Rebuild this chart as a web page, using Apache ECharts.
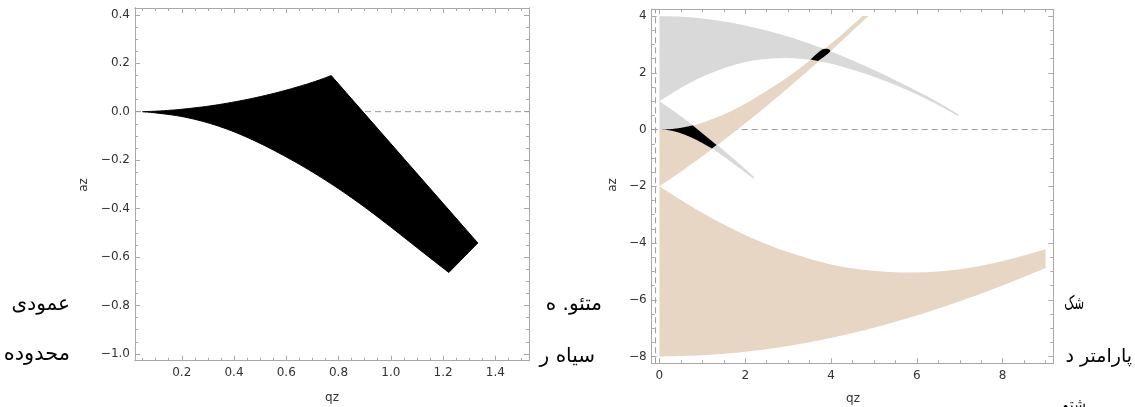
<!DOCTYPE html>
<html><head><meta charset="utf-8">
<script src="https://cdn.jsdelivr.net/npm/echarts@6/dist/echarts.min.js"></script>
<style>html,body{margin:0;padding:0;background:#fff}#c{width:1135px;height:407px}</style>
</head><body><div id="c"></div>
<script>
// ---------- DATA (qz, az) ----------
// Left panel: overlap (first stability) region, black
const blackTop = [[0.05,0],[0.1,0.002],[0.15,0.0055],[0.2,0.010],[0.3,0.0225],[0.4,0.040],[0.5,0.062],[0.6,0.089],[0.7,0.121],[0.772,0.149]];
const blackCorner = [[1.333,-0.542]];
const blackLower = [[0.05,0],[0.1,-0.005],[0.2,-0.020],[0.3,-0.046],[0.4,-0.083],[0.5,-0.131],[0.6,-0.187],[0.7,-0.249],[0.8,-0.318],[0.9,-0.394],[1.0,-0.476],[1.1,-0.561],[1.222,-0.664]];
// Right panel: tan band 1, clipped at az = 4
const tan1Upper = [[0,0],[0.25,0.016],[0.5,0.062],[0.75,0.138],[1,0.244],[1.5,0.532],[2,0.91],[2.5,1.37],[3,1.86],[3.5,2.43],[4,3.03],[4.5,3.68],[4.73,4.0]];
const tan1Lower = [[0,-2],[0.5,-1.484],[1,-0.941],[1.5,-0.372],[2,0.22],[2.5,0.834],[3,1.468],[3.5,2.12],[4,2.78],[4.5,3.48],[4.87,4.0]];
// tan band 2 (lower)
const tan2Upper = [[0,-2],[0.5,-2.484],[1,-2.938],[1.5,-3.346],[2,-3.718],[2.5,-4.04],[3,-4.32],[4,-4.758],[5,-4.98],[6,-5.038],[7,-4.92],[8,-4.636],[9,-4.22]];
const tan2Lower = [[0,-8],[1,-7.958],[2,-7.834],[3,-7.628],[4,-7.344],[5,-6.986],[6,-6.554],[7,-6.054],[8,-5.494],[9,-4.88]];
// gray band 1 (upper)
const gray1Upper = [[0,4],[0.5,3.98],[1,3.92],[1.5,3.81],[2,3.67],[2.5,3.49],[3,3.28],[3.5,3.03],[4,2.75],[4.5,2.44],[5,2.10],[5.5,1.74],[6,1.36],[6.5,0.96],[6.97,0.53]];
const gray1Lower = [[0,1],[0.5,1.47],[1,1.86],[1.5,2.16],[2,2.38],[2.5,2.49],[3,2.52],[3.5,2.46],[4,2.32],[4.5,2.11],[5,1.86],[5.5,1.57],[6,1.24],[6.5,0.86],[6.97,0.47]];
// gray band 2 (lower-left)
const gray2Upper = [[0,1],[0.25,0.742],[0.5,0.471],[0.75,0.186],[1,-0.11],[1.25,-0.417],[1.5,-0.734],[1.75,-1.06],[2,-1.39],[2.2,-1.66]];
const gray2Lower = [[0,0],[0.25,-0.03],[0.5,-0.131],[0.75,-0.283],[1,-0.476],[1.25,-0.69],[1.5,-0.95],[1.75,-1.23],[2,-1.51],[2.2,-1.74]];
// region B overlap
const regionB = [[3.52,2.47],[3.81,2.83],[3.98,2.76],[3.70,2.42]];
// dashed axes lines
const leftZeroLine = [[0.021,0],[1.529,0]];
const rightZeroLine = [[-0.18,0],[9.18,0]];
const rightVertLine = [[-0.09,-8.24],[-0.09,4.24]];
// ticks
const leftXTicks = [0.2,0.4,0.6,0.8,1.0,1.2,1.4];
const leftXLabels = ['0.2','0.4','0.6','0.8','1.0','1.2','1.4'];
const leftYTicks = [-1.0,-0.8,-0.6,-0.4,-0.2,0,0.2,0.4];
const leftYLabels = ['\u22121.0','\u22120.8','\u22120.6','\u22120.4','\u22120.2','0.0','0.2','0.4'];
const rightXTicks = [0,2,4,6,8];
const rightXLabels = ['0','2','4','6','8'];
const rightYTicks = [-8,-6,-4,-2,0,2,4];
const rightYLabels = ['\u22128','\u22126','\u22124','\u22122','0','2','4'];

function steps(a,b,s){const o=[];for(let v=a;v<=b+1e-9;v+=s)o.push(+v.toFixed(4));return o;}
const leftXMinor = steps(0.05,1.5,0.05);
const leftYMinor = steps(-1.0,0.4,0.05);
const rightXMinor = steps(0,9,0.5);
const rightYMinor = steps(-8,4,0.5);

const FRAME = '#a9a9a9';
const TXT = '#333';
const FONT = 'DejaVu Sans';

function lab(ticks, labels){
  return v => { for (let i=0;i<ticks.length;i++) if (Math.abs(ticks[i]-v)<1e-6) return labels[i]; return ''; };
}
function axis(grid, pos, min, max, ticks, len, labels, margin){
  return {
    type:'value', gridIndex:grid, position:pos, min:min, max:max,
    axisLine:{show:true, onZero:false, lineStyle:{color:FRAME, width:1}},
    axisTick:{show:true, inside:true, length:len, customValues:ticks, lineStyle:{color:FRAME, width:1}},
    axisLabel: labels ? {show:true, customValues:ticks, margin:margin, formatter:lab(ticks, labels), color:TXT, fontFamily:FONT, fontSize:12} : {show:false},
    splitLine:{show:false}, minorTick:{show:false}, minorSplitLine:{show:false}
  };
}
const LX=[0.021,1.529], LY=[-1.028,0.428], RX=[-0.18,9.18], RY=[-8.24,4.24];
const xAxis = [
  axis(0,'bottom',LX[0],LX[1],leftXTicks,5,leftXLabels,6),
  axis(0,'bottom',LX[0],LX[1],leftXMinor,3,null),
  axis(0,'top',LX[0],LX[1],leftXTicks,5,null),
  axis(0,'top',LX[0],LX[1],leftXMinor,3,null),
  axis(1,'bottom',RX[0],RX[1],rightXTicks,5,rightXLabels,7),
  axis(1,'bottom',RX[0],RX[1],rightXMinor,3,null),
  axis(1,'top',RX[0],RX[1],rightXTicks,5,null),
  axis(1,'top',RX[0],RX[1],rightXMinor,3,null)
];
const yAxis = [
  axis(0,'left',LY[0],LY[1],leftYTicks,5,leftYLabels,5),
  axis(0,'left',LY[0],LY[1],leftYMinor,3,null),
  axis(0,'right',LY[0],LY[1],leftYTicks,5,null),
  axis(0,'right',LY[0],LY[1],leftYMinor,3,null),
  axis(1,'left',RY[0],RY[1],rightYTicks,5,rightYLabels,5),
  axis(1,'left',RY[0],RY[1],rightYMinor,3,null),
  axis(1,'right',RY[0],RY[1],rightYMinor,3,null),
  axis(1,'right',RY[0],RY[1],rightYTicks,5,null)
];

// Catmull-Rom smoothing of an edge in pixel space
function smoothEdge(px){
  if (px.length < 3) return px;
  const out = [];
  const n = px.length, SUB = 10;
  for (let i=0;i<n-1;i++){
    const p0 = px[Math.max(i-1,0)], p1 = px[i], p2 = px[i+1], p3 = px[Math.min(i+2,n-1)];
    for (let k=0;k<SUB;k++){
      const t = k/SUB, t2=t*t, t3=t2*t;
      out.push([
        0.5*((2*p1[0]) + (-p0[0]+p2[0])*t + (2*p0[0]-5*p1[0]+4*p2[0]-p3[0])*t2 + (-p0[0]+3*p1[0]-3*p2[0]+p3[0])*t3),
        0.5*((2*p1[1]) + (-p0[1]+p2[1])*t + (2*p0[1]-5*p1[1]+4*p2[1]-p3[1])*t2 + (-p0[1]+3*p1[1]-3*p2[1]+p3[1])*t3)
      ]);
    }
  }
  out.push(px[n-1]);
  return out;
}
function poly(edges, color, xi, yi, z, stroke){
  return {
    type:'custom', xAxisIndex:xi, yAxisIndex:yi, z:z, silent:true, animation:false,
    data:[edges[0][0]],
    renderItem:(params, api) => {
      let pts = [];
      edges.forEach(e => { pts = pts.concat(smoothEdge(e.map(p => api.coord(p)))); });
      return {
        type:'polygon',
        shape:{points: pts},
        style:{fill:color, stroke: stroke ? color : null, lineWidth: stroke ? 1 : 0, lineJoin:'round'}
      };
    }
  };
}
const rev = a => a.slice().reverse();
function dashed(pts, xi, yi){
  return {type:'line', xAxisIndex:xi, yAxisIndex:yi, data:pts, z:1, showSymbol:false, symbol:'none', silent:true, animation:false,
    lineStyle:{color:'#9a9a9a', width:1, type:[6,4]}};
}

const TAN = '#e8d6c4', GRAY = '#d9d9d9';
const blackEdges = [blackTop, blackCorner, rev(blackLower)];
const series = [
  dashed(leftZeroLine,0,0),
  poly(blackEdges,'#000',0,0,3,true),
  dashed(rightZeroLine,4,4),
  dashed(rightVertLine,4,4),
  poly([tan2Upper, rev(tan2Lower)],TAN,4,4,2),
  poly([tan1Upper, rev(tan1Lower)],TAN,4,4,2),
  poly([gray1Upper, rev(gray1Lower)],GRAY,4,4,2),
  poly([gray2Upper, rev(gray2Lower)],GRAY,4,4,2),
  poly(blackEdges,'#000',4,4,3,false),
  poly([regionB],'#000',4,4,3,false)
];

const t = (txt, x, y, opts, extra) => Object.assign({type:'text', x:x, y:y, silent:true,
  style:Object.assign({text:txt, fill:'#000', font:'20px "DejaVu Sans"', align:'right', verticalAlign:'middle'}, opts||{})}, extra||{});

const graphic = [
  t('az', 84, 185, {font:'12px "DejaVu Sans"', fill:TXT, align:'center'}, {rotation:Math.PI/2}),
  t('qz', 332, 398, {font:'12px "DejaVu Sans"', fill:TXT, align:'center'}),
  t('az', 613, 185, {font:'12px "DejaVu Sans"', fill:TXT, align:'center'}, {rotation:Math.PI/2}),
  t('qz', 853, 399, {font:'12px "DejaVu Sans"', fill:TXT, align:'center'}),
  t('عمودی', 70, 305),
  t('محدوده', 70, 355, {font:'21px "DejaVu Sans"'}),
  t('متئو. ه', 602, 305),
  t('سیاه ر', 595, 357),
  t('شک', 1084, 304, {font:'19px "DejaVu Sans"'}, {scaleX:0.6}),
  t('پارامتر د', 1132, 357, {font:'19px "DejaVu Sans"'}),
  t('شتم', 1086, 406, {font:'19px "DejaVu Sans"'}, {scaleX:0.75})
];

const chart = echarts.init(document.getElementById('c'), null, {renderer:'canvas'});
chart.setOption({
  animation:false,
  backgroundColor:'#fff',
  grid:[
    {left:135, top:8, width:394, height:352.7, containLabel:false, outerBoundsMode:'none'},
    {left:651.7, top:9.3, width:401.6, height:354, containLabel:false, outerBoundsMode:'none'}
  ],
  xAxis:xAxis, yAxis:yAxis, series:series, graphic:graphic
});
</script>
</body></html>
